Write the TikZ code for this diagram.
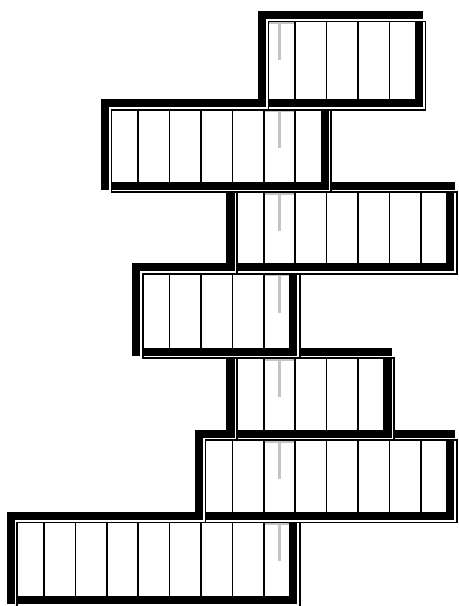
\documentclass[tikz,border=0pt]{standalone}
\usepackage{tikz}
\definecolor{headgray}{gray}{0.77}
\tikzset{
  rowframe/.style={line width=6.2pt},
  rowhalo/.style={white, line width=1.3pt},
  rowedge/.style={line width=1.2pt},
  cellline/.style={line width=1.2pt},
  headmark/.style={headgray, line width=2.2pt},
}

\begin{document}
\begin{tikzpicture}[x=0.75pt, y=-0.75pt]
  \useasboundingbox (0,0) rectangle (458,606);
  % rows: top / bottom / first cell / last cell (cell 0 holds the head)
  \def\rows{15/103.5/0/5, 103.5/185.8/-5/2, 185.8/267.5/-1/6, 267.5/351.8/-4/1,
            351.8/433.8/-1/4, 433.8/516.2/-2/6, 516.2/600/-8/1}
  \foreach \t/\b/\l/\r in \rows {
    \draw[headmark] (279.4,\t+7.2) -- (279.4,\t+45);
    \draw[headgray, line width=1.3pt] (264.5,\t+8) -- (294.3,\t+8);
  }
  \foreach \t/\b/\l/\r in \rows
    \draw[rowframe] ({262+31.4*(\l)},\t) rectangle ({262+31.4*(\r)},\b);
  \foreach \t/\b/\l/\r in \rows
    \draw[rowhalo] ({266.8+31.4*(\l)},\t+4.8) rectangle ({266.8+31.4*(\r)},\b+4.8);
  \foreach \t/\b/\l/\r in \rows {
    \draw[rowedge] ({268.4+31.4*(\l)},\t+6.4) rectangle ({268.4+31.4*(\r)},\b+6.4);
    \pgfmathtruncatemacro\kA{\l+1}
    \pgfmathtruncatemacro\kB{\r-1}
    \foreach \k in {\kA,...,\kB}
      \draw[cellline] ({263.7+31.4*(\k)},\t+6.4) -- ({263.7+31.4*(\k)},\b);
  }
\end{tikzpicture}
\end{document}
